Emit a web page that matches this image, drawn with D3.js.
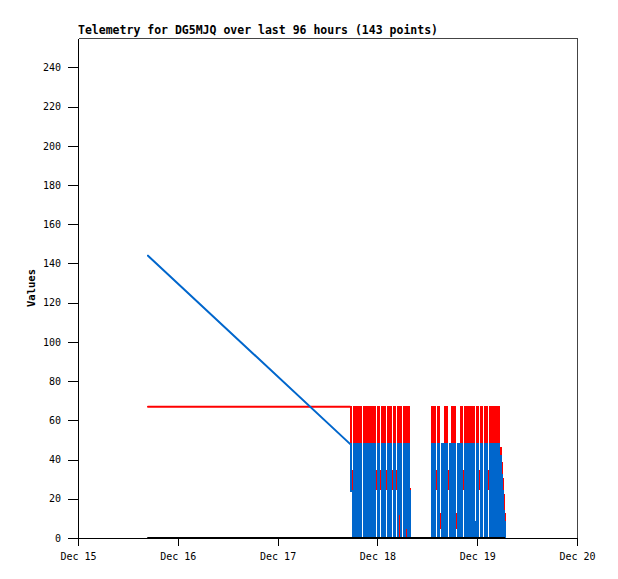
<!DOCTYPE html>
<html>
<head>
<meta charset="utf-8">
<script src="https://cdn.jsdelivr.net/npm/d3@7"></script>
<style>
  body { margin: 0; background: #fff; }
  svg text { font-family: "DejaVu Sans Mono", monospace; fill: #000; }
</style>
</head>
<body>
<svg id="chart" width="618" height="579"></svg>
<script>
// Telemetry samples, hours since Dec 15 00:00.
var hours = [
  16.83, 65.41, 65.65, 66.13, 66.32, 66.52, 66.71, 66.90, 67.09, 67.29,
  67.48, 67.67, 67.86, 68.06, 68.54, 68.78, 68.90, 69.08, 69.26, 69.44,
  69.62, 69.80, 69.98, 70.16, 70.34, 70.52, 70.70, 70.88, 71.06, 71.24,
  71.42, 71.90, 72.14, 72.38, 72.87, 73.11, 73.35, 73.59, 73.83, 74.31,
  74.55, 74.79, 75.03, 75.27, 75.75, 75.99, 76.23, 76.71, 76.95, 77.19,
  77.43, 77.68, 78.16, 78.40, 78.52, 78.70, 78.88, 79.06, 79.24, 79.42,
  79.60, 79.84, 84.89, 85.13, 85.37, 85.61, 85.85, 86.33, 86.57, 86.81,
  87.30, 87.54, 87.66, 87.84, 88.02, 88.20, 88.38, 88.56, 88.74, 89.22,
  89.46, 89.70, 89.94, 90.18, 90.42, 90.66, 91.14, 91.44, 91.74, 92.05,
  92.35, 92.83, 93.07, 93.17, 93.34, 93.51, 93.69, 93.86, 94.03, 94.20,
  94.37, 94.54, 94.72, 94.89, 95.06, 95.23, 95.71, 95.95, 96.19, 96.68,
  96.92, 97.16, 97.64, 97.88, 98.00, 98.18, 98.36, 98.84, 99.08, 99.20,
  99.38, 99.56, 99.74, 99.92, 100.10, 100.28, 100.46, 100.64, 100.82, 101.00,
  101.18, 101.36, 101.48, 101.61, 101.73, 101.85, 101.97, 102.09, 102.21, 102.33,
  102.45, 102.57, 102.69
];

var redValues = [
  67, 67, 34, 0, 67, 0, 67, 0, 67, 0,
  67, 0, 67, 0, 0, 67, 0, 67, 0, 67,
  0, 67, 0, 67, 0, 67, 0, 67, 0, 67,
  34, 25, 67, 25, 34, 67, 0, 67, 34, 25,
  67, 0, 67, 25, 34, 67, 34, 25, 67, 0,
  67, 0, 0, 67, 0, 67, 0, 67, 0, 67,
  25, 0, 0, 67, 0, 67, 34, 25, 67, 12,
  5, 40, 0, 40, 0, 67, 0, 67, 34, 25,
  40, 0, 67, 0, 67, 12, 5, 40, 0, 67,
  25, 34, 67, 0, 67, 0, 67, 0, 67, 25,
  67, 0, 67, 0, 67, 0, 0, 67, 34, 25,
  67, 0, 0, 67, 0, 67, 34, 25, 67, 0,
  67, 0, 67, 0, 67, 0, 67, 25, 67, 0,
  67, 0, 46, 0, 38, 0, 30, 0, 22, 0,
  12, 0, 5
];

var blueValues = [
  144, 48, 24, 0, 48, 0, 48, 0, 48, 0,
  48, 0, 48, 0, 0, 48, 0, 48, 0, 48,
  0, 48, 0, 48, 0, 48, 0, 48, 0, 48,
  0, 0, 48, 0, 0, 48, 0, 48, 0, 0,
  48, 0, 48, 0, 0, 48, 0, 0, 48, 12,
  48, 0, 0, 48, 0, 48, 5, 48, 0, 48,
  24, 0, 0, 48, 0, 48, 0, 0, 48, 0,
  0, 48, 0, 48, 0, 48, 0, 48, 0, 0,
  48, 0, 48, 0, 48, 0, 0, 48, 0, 48,
  0, 0, 48, 0, 48, 0, 48, 0, 48, 34,
  48, 0, 48, 0, 48, 0, 8, 48, 0, 0,
  48, 0, 0, 48, 0, 48, 0, 0, 48, 0,
  48, 0, 48, 0, 48, 0, 48, 34, 48, 0,
  48, 0, 42, 0, 32, 0, 24, 0, 14, 0,
  8, 0, 3
];

var blackValues = [
  0, 0, 0, 0, 0, 0, 0, 0, 0, 0,
  0, 0, 0, 0, 0, 0, 0, 0, 0, 0,
  0, 0, 0, 0, 0, 0, 0, 0, 0, 0,
  0, 0, 0, 0, 0, 0, 0, 0, 0, 0,
  0, 0, 0, 0, 0, 0, 0, 0, 0, 0,
  0, 0, 0, 0, 0, 0, 0, 0, 0, 0,
  0, 0, 0, 0, 0, 0, 0, 0, 0, 0,
  0, 0, 0, 0, 0, 0, 0, 0, 0, 0,
  0, 0, 0, 0, 0, 0, 0, 0, 0, 0,
  0, 0, 0, 0, 0, 0, 0, 0, 0, 0,
  0, 0, 0, 0, 0, 0, 0, 0, 0, 0,
  0, 0, 0, 0, 0, 0, 0, 0, 0, 0,
  0, 0, 0, 0, 0, 0, 0, 0, 0, 0,
  0, 0, 0, 0, 0, 0, 0, 0, 0, 0,
  0, 0, 0
];

var yTicks = [0, 20, 40, 60, 80, 100, 120, 140, 160, 180, 200, 220, 240];
var yMax = 255;
var startDay = new Date(2023, 11, 15);
var endDay = new Date(2023, 11, 20);
var title = 'Telemetry for DG5MJQ over last 96 hours (143 points)';
var yLabel = 'Values';

var plot = { left: 78, right: 577, top: 38, bottom: 538 };

var svg = d3.select('#chart');

var x = d3.scaleTime().domain([startDay, endDay]).range([plot.left, plot.right]);
var y = d3.scaleLinear().domain([0, yMax]).range([plot.bottom, plot.top]);

function toDate(h) {
  return new Date(startDay.getTime() + h * 3600 * 1000);
}

var points = hours.map(function (h, i) {
  return { t: toDate(h), red: redValues[i], blue: blueValues[i], black: blackValues[i] };
});

// Frame: top and right edges are grey, axes are black.
svg.append('path')
  .attr('d', 'M' + (plot.left + 0.5) + ',' + (plot.top + 0.5) +
    'H' + (plot.right + 0.5) + 'V' + (plot.bottom + 0.5))
  .attr('fill', 'none')
  .attr('stroke', '#444')
  .attr('shape-rendering', 'crispEdges');

function renderSeries(key, color) {
  var xOf = function (d) { return x(d.t); };
  var yOf = function (d) { return y(d[key]); };
  // The lone first sample is joined to the burst with a straight segment;
  // the burst itself (one sample every few minutes) is drawn as steps.
  var lead = d3.line().x(xOf).y(yOf);
  var burst = d3.line().x(xOf).y(yOf).curve(d3.curveStepAfter);
  var g = svg.append('g')
    .attr('fill', 'none')
    .attr('stroke', color)
    .attr('stroke-width', 2);
  g.append('path')
    .datum(points.slice(0, 2))
    .attr('d', lead)
    .attr('stroke-linecap', 'round');
  g.append('path')
    .datum(points.slice(1))
    .attr('d', burst)
    .attr('stroke-linejoin', 'miter')
    .attr('shape-rendering', 'crispEdges');
}

renderSeries('red', '#ff0000');
renderSeries('blue', '#0066cc');

var yAxis = d3.axisLeft(y)
  .tickValues(yTicks)
  .tickSize(10)
  .tickPadding(7)
  .tickSizeOuter(0);

var xAxis = d3.axisBottom(x)
  .ticks(d3.timeDay.every(1))
  .tickFormat(d3.timeFormat('%b %d'))
  .tickSize(8)
  .tickPadding(7)
  .tickSizeOuter(0);

var yG = svg.append('g')
  .attr('transform', 'translate(' + plot.left + ',0)')
  .call(yAxis);

var xG = svg.append('g')
  .attr('transform', 'translate(0,' + plot.bottom + ')')
  .call(xAxis);

[yG, xG].forEach(function (g) {
  g.selectAll('path, line')
    .attr('stroke', '#000')
    .attr('shape-rendering', 'crispEdges');
  g.selectAll('text')
    .attr('font-family', '"DejaVu Sans Mono", monospace')
    .attr('font-size', 10)
    .attr('fill', '#000');
});

renderSeries('black', '#000');

svg.append('text')
  .attr('x', plot.left)
  .attr('y', 34)
  .attr('font-size', 11.5)
  .attr('font-weight', 'bold')
  .text(title);

svg.append('text')
  .attr('transform', 'translate(35,288) rotate(-90)')
  .attr('text-anchor', 'middle')
  .attr('font-size', 10.5)
  .attr('font-weight', 'bold')
  .text(yLabel);
</script>
</body>
</html>
